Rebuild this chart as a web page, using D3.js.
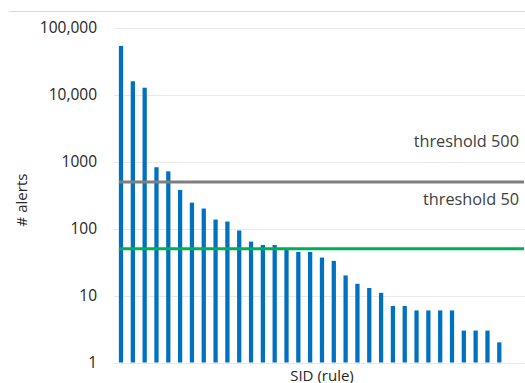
<!DOCTYPE html>
<html>
<head>
<meta charset="utf-8">
<script src="https://cdn.jsdelivr.net/npm/d3@7"></script>
<style>
  html, body { margin: 0; padding: 0; background: #fff; }
  svg { display: block; }
</style>
</head>
<body>
<svg id="chart" width="525" height="383"></svg>
<script>
// ---- data ----
const categories = d3.range(1, 34).map(i => "SID " + i);
const alerts = [54000, 16000, 12800, 830, 720, 380, 245, 200, 137, 128, 94, 64, 57, 57, 48, 45, 45, 37, 33, 20, 15, 13, 11, 7, 7, 6, 6, 6, 6, 3, 3, 3, 2];
const yTicks = [1, 10, 100, 1000, 10000, 100000];
const yTickLabels = ["1", "10", "100", "1000", "10,000", "100,000"];
const thresholds = [500, 50];
const thresholdLabels = ["threshold 500", "threshold 50"];
const thresholdColors = ["#7f7f7f", "#00b050"];

// ---- layout ----
const svg = d3.select("#chart");
const plotLeft = 114, plotRight = 525;

const x = d3.scaleBand()
  .domain(categories)
  .range([115.1, 505.2])
  .paddingInner(0.64)
  .paddingOuter(0.32);

const y = d3.scaleLog()
  .domain([1, 100000])
  .range([362.5, 28]);

// top border line
svg.append("line")
  .attr("x1", 9).attr("x2", 525)
  .attr("y1", 11.5).attr("y2", 11.5)
  .attr("stroke", "#d9d9d9").attr("stroke-width", 1);

// gridlines
svg.append("g").selectAll("line")
  .data(yTicks)
  .join("line")
  .attr("x1", plotLeft).attr("x2", plotRight)
  .attr("y1", d => Math.round(y(d)) + 0.5)
  .attr("y2", d => Math.round(y(d)) + 0.5)
  .attr("stroke", "#e9e9e9").attr("stroke-width", 1.2);

// y axis labels
const yAxis = d3.axisLeft(y)
  .tickValues(yTicks)
  .tickFormat((d, i) => yTickLabels[i])
  .tickSize(0)
  .tickPadding(0);
const gy = svg.append("g")
  .attr("transform", "translate(97,0)")
  .call(yAxis);
gy.select(".domain").remove();
gy.selectAll("text")
  .attr("font-family", "'Open Sans', sans-serif")
  .attr("font-size", 15.5)
  .attr("fill", "#262626");

// bars
svg.append("g").selectAll("rect")
  .data(alerts)
  .join("rect")
  .attr("x", (d, i) => x(categories[i]))
  .attr("width", x.bandwidth())
  .attr("y", d => y(d))
  .attr("height", d => y(1) - y(d))
  .attr("fill", "#0070c0");

// threshold lines
const thrStart = x(categories[0]);
svg.append("g").selectAll("line")
  .data(thresholds)
  .join("line")
  .attr("x1", thrStart).attr("x2", 524)
  .attr("y1", d => y(d)).attr("y2", d => y(d))
  .attr("stroke", (d, i) => thresholdColors[i])
  .attr("stroke-width", 3);

// threshold labels
const labelY = [146.5, 205];
svg.append("g").selectAll("text")
  .data(thresholdLabels)
  .join("text")
  .attr("x", 519)
  .attr("y", (d, i) => labelY[i])
  .attr("text-anchor", "end")
  .attr("font-family", "'Open Sans', sans-serif")
  .attr("font-size", 16.3)
  .attr("fill", "#404040")
  .text(d => d);

// axis titles
svg.append("text")
  .attr("transform", "translate(27,200) rotate(-90)")
  .attr("text-anchor", "middle")
  .attr("font-family", "'Open Sans', sans-serif")
  .attr("font-size", 15)
  .attr("fill", "#262626")
  .text("# alerts");

svg.append("text")
  .attr("x", 322)
  .attr("y", 380.5)
  .attr("text-anchor", "middle")
  .attr("font-family", "'Open Sans', sans-serif")
  .attr("font-size", 15)
  .attr("fill", "#262626")
  .text("SID (rule)");
</script>
</body>
</html>
